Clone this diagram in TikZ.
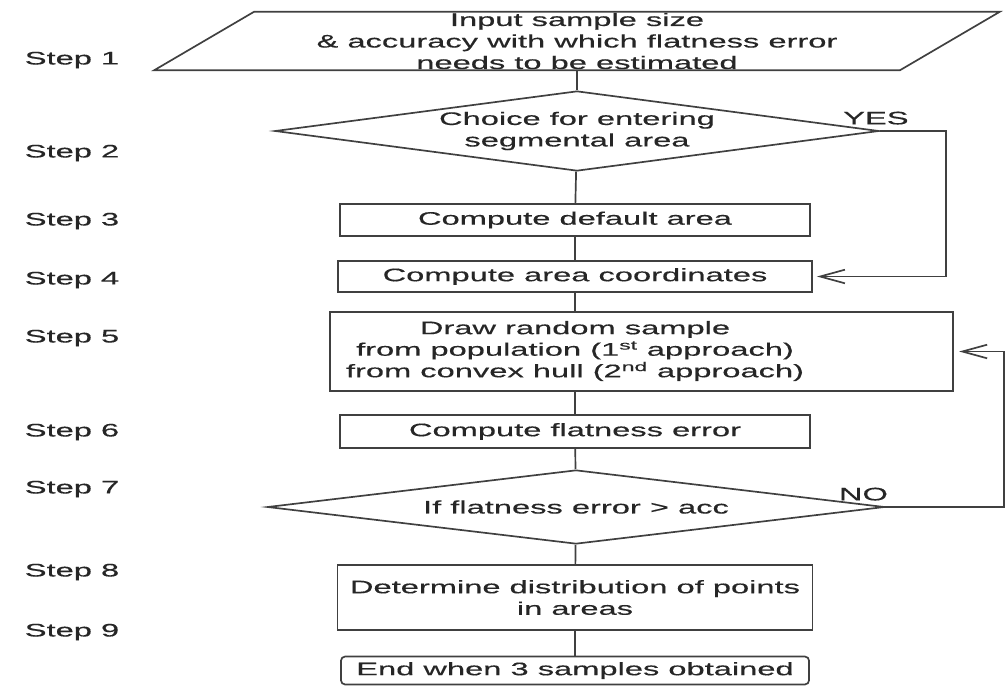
\documentclass[tikz,border=0pt]{standalone}
\usepackage{fontspec}
\setmainfont[FakeStretch=1.8, FakeBold=0.4]{Liberation Sans}
\usepackage{xcolor}
\usepackage{tikz}
\usetikzlibrary{positioning,arrows.meta,shapes.geometric}

\begin{document}
\begin{tikzpicture}[x=0.025cm, y=-0.025cm,
    >={Straight Barb[length=0.62cm, width=0.34cm]},
    every node/.style={font=\fontsize{12.9}{15.3}\selectfont, align=center, text=black!85},
    line/.style={draw=black!75, line width=1.2pt},
    procbox/.style={line, rectangle, inner sep=0pt},
    choice/.style={line, diamond, inner sep=0pt, aspect=8},
    steplbl/.style={inner sep=0pt}]
  \def\bw{11.75cm}
  \def\bh{0.8cm}
  \useasboundingbox (0,0) rectangle (1006,686);

  % step labels
  \node[steplbl] (s1) at (72,60)  {Step 1};
  \node[steplbl] (s2) at (72,153) {Step 2};
  \node[steplbl] (s3) at (72,221) {Step 3};
  \node[steplbl] (s4) at (72,280) {Step 4};
  \node[steplbl] (s5) at (72,338) {Step 5};
  \node[steplbl] (s6) at (72,432) {Step 6};
  \node[steplbl] (s7) at (72,489) {Step 7};
  \node[steplbl] (s8) at (72,572) {Step 8};
  \node[steplbl] (s9) at (72,632) {Step 9};

  % flow
  \node[inner sep=0pt, minimum width=18.625cm, minimum height=1.45cm] (inp)
      at (577,41) {Input sample size\\
      \& accuracy with which flatness error\\
      needs to be estimated};
  \draw[line] ([xshift=-1.25cm]inp.south west) -- ([xshift=1.25cm]inp.north west)
      -- ([xshift=1.25cm]inp.north east) -- ([xshift=-1.25cm]inp.south east) -- cycle;
  \node[choice, minimum width=15.1cm, minimum height=2cm] (d2)
      at (577,131) {Choice for entering\\segmental area};
  \node[procbox, minimum width=\bw, minimum height=\bh] (b3)
      at (575,220) {Compute default area};
  \node[procbox, minimum width=11.83cm, minimum height=0.78cm] (b4)
      at (575,276.5) {Compute area coordinates};
  \node[procbox, minimum width=15.575cm, minimum height=1.975cm] (b5)
      at (641.5,351.5) {};
  \node (b5t) at (575,351) {Draw random sample\\
      from population (1\textsuperscript{st} approach)\\
      from convex hull (2\textsuperscript{nd} approach)};
  \node[procbox, minimum width=\bw, minimum height=0.825cm] (b6)
      at (575,431.5) {Compute flatness error};
  \node[choice, minimum width=15.425cm, minimum height=1.85cm] (d7)
      at (576,507) {If flatness error > acc};
  \node[procbox, minimum width=11.875cm, minimum height=1.625cm] (b8)
      at (575,597.5) {Determine distribution of points\\in areas};
  \node[procbox, rounded corners=3pt, minimum width=11.7cm, minimum height=0.7cm] (b9)
      at (575,670.5) {End when 3 samples obtained};

  \draw[line] (inp) -- (d2);
  \draw[line] (d2) -- (b3);
  \draw[line] (b3) -- (b4);
  \draw[line] (b4.south) -- (b4.south |- b5.north);
  \draw[line] (b6.north |- b5.south) -- (b6.north);
  \draw[line] (b6) -- (d7);
  \draw[line] (d7) -- (b8);
  \draw[line] (b8) -- (b9);

  % loops back
  \draw[line, ->, shorten >=0.11cm] (d2.east) node[above, xshift=-0.1cm, inner sep=4pt] (yes) {YES}
      -- ++(66,0) |- (b4.east);
  \draw[line, ->, shorten >=0.13cm] (d7.east) node[above, xshift=-0.55cm, inner sep=4pt] (no) {NO}
      -- ++(118.5,0) |- (b5.east);
\end{tikzpicture}
\end{document}
